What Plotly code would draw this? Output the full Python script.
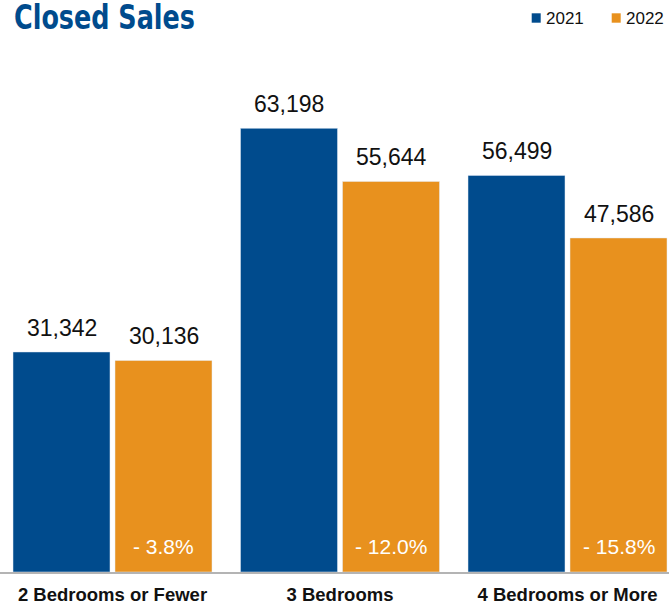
import plotly.graph_objects as go

categories = ["2 Bedrooms or Fewer", "3 Bedrooms", "4 Bedrooms or More"]
years = ["2021", "2022"]
sales_2021 = [31342, 63198, 56499]
sales_2022 = [30136, 55644, 47586]
pct_change = ["- 3.8%", "- 12.0%", "- 15.8%"]

BLUE = "#004B8D"
ORANGE = "#E8911E"

W, H = 669, 606
MB = 34
plot_h = H - MB
px_per_unit = 0.00702
ymax = plot_h / px_per_unit

slot_px = 227.5
first_center = 112.5
r0 = -first_center / slot_px
r1 = r0 + W / slot_px

bar_w = 97 / slot_px
gap = 5 / slot_px
off_a = -gap / 2 - bar_w
off_b = gap / 2
ctr_a = off_a + bar_w / 2
ctr_b = off_b + bar_w / 2

fig = go.Figure()
fig.add_trace(go.Bar(x=categories, y=sales_2021, name=years[0], marker_color=BLUE,
                     width=bar_w, offset=off_a, showlegend=False, hoverinfo="skip"))
fig.add_trace(go.Bar(x=categories, y=sales_2022, name=years[1], marker_color=ORANGE,
                     width=bar_w, offset=off_b, showlegend=False, hoverinfo="skip"))

ann = []
for i, (a, b, p) in enumerate(zip(sales_2021, sales_2022, pct_change)):
    for v, c in ((a, ctr_a), (b, ctr_b)):
        ann.append(dict(x=i + c, y=v, xref="x", yref="y", text=f"{v:,}", showarrow=False,
                        yanchor="middle", yshift=24,
                        font=dict(family="Liberation Sans, Arial, sans-serif", size=23, color="#111111")))
    ann.append(dict(x=i + ctr_b, y=0, xref="x", yref="y", text=p, showarrow=False,
                    yanchor="middle", yshift=26,
                    font=dict(family="Liberation Sans, Arial, sans-serif", size=21, color="#FFFFFF")))

# legend (drawn)
leg = [(years[0], BLUE, 531.7), (years[1], ORANGE, 611.7)]
shapes = []
for name, col, x0 in leg:
    shapes.append(dict(type="rect", xref="paper", yref="paper",
                       x0=x0 / W, x1=(x0 + 9) / W,
                       y0=(plot_h - 22.7) / plot_h, y1=(plot_h - 13.3) / plot_h,
                       fillcolor=col, line=dict(width=0)))
    ann.append(dict(x=(x0 + 12.5) / W, y=(plot_h - 18.3) / plot_h, xref="paper", yref="paper",
                    text=name, showarrow=False, xanchor="left", yanchor="middle",
                    font=dict(family="Liberation Sans, Arial, sans-serif", size=17, color="#111111")))

fig.update_layout(
    width=W, height=H,
    margin=dict(l=0, r=0, t=0, b=MB),
    paper_bgcolor="white", plot_bgcolor="white",
    title=dict(text="<b>Closed Sales</b>", x=14 / W, xanchor="left", xref="paper",
               y=1 - 17 / H, yanchor="middle", yref="container",
               font=dict(family="DejaVu Sans Condensed, Liberation Sans Narrow, Arial Narrow, sans-serif",
                         size=34, color=BLUE)),
    annotations=ann,
    shapes=shapes,
    bargap=0, bargroupgap=0,
    xaxis=dict(range=[r0, r1], showgrid=False, zeroline=False, showline=True,
               linecolor="#B4B4B4", linewidth=2, ticks="", ticklabelstandoff=5,
               tickfont=dict(family="Liberation Sans, Arial, sans-serif", size=18.5, color="#111111",
                             weight="bold")),
    yaxis=dict(range=[0, ymax], visible=False, showgrid=False, zeroline=False),
    showlegend=False,
)

post = """
document.body.style.margin = '0';
document.body.style.padding = '0';
var t = document.querySelector('.gtitle');
if (t) {
  var bb = t.getBBox();
  var sx = 181 / bb.width;
  var x0 = bb.x;
  t.setAttribute('transform', 'translate(' + (x0 * (1 - sx)) + ',0) scale(' + sx + ',1)');
}
"""

fig.write_html("out.html", post_script=post, config={"displayModeBar": False, "staticPlot": True})
